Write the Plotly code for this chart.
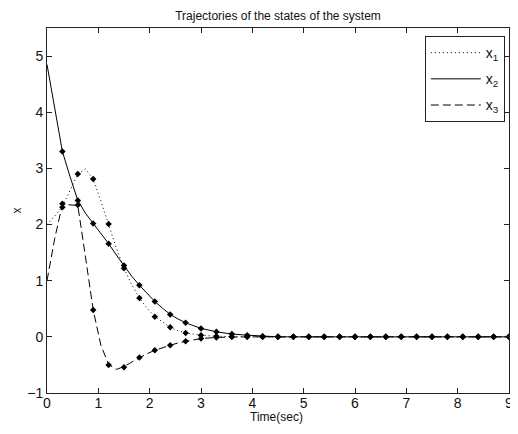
import plotly.graph_objects as go

# --- data ---
t_line = [0, 0.15, 0.3, 0.45, 0.6, 0.75, 0.9, 1.05, 1.2, 1.35, 1.5, 1.65, 1.8,
          1.95, 2.1, 2.25, 2.4, 2.55, 2.7, 2.85, 3.0, 3.3, 3.6, 3.9, 4.2, 4.5, 9.0]
x1_line = [2.0, 2.15, 2.32, 2.62, 2.90, 2.99, 2.80, 2.42, 2.01, 1.58, 1.22, 0.93, 0.69,
           0.51, 0.36, 0.26, 0.17, 0.11, 0.07, 0.05, 0.03, 0.01, 0.0, 0.0, 0.0, 0.0, 0.0]
x2_line = [4.85, 4.05, 3.30, 2.85, 2.43, 2.20, 2.02, 1.85, 1.66, 1.46, 1.26, 1.08, 0.92,
           0.77, 0.63, 0.51, 0.40, 0.32, 0.25, 0.20, 0.15, 0.09, 0.05, 0.03, 0.01, 0.0, 0.0]
x3_line = [1.0, 1.75, 2.36, 2.35, 2.34, 1.42, 0.48, -0.15, -0.49, -0.58, -0.53, -0.45, -0.37,
           -0.30, -0.24, -0.19, -0.15, -0.11, -0.08, -0.05, -0.03, -0.01, 0.0, 0.0, 0.0, 0.0, 0.0]

t_mark = [0.3, 0.6, 0.9, 1.2, 1.5, 1.8, 2.1, 2.4, 2.7, 3.0, 3.3, 3.6, 3.9, 4.2, 4.5,
          4.8, 5.1, 5.4, 5.7, 6.0, 6.3, 6.6, 6.9, 7.2, 7.5, 7.8, 8.1, 8.4, 8.7, 9.0]
x1_mark = [2.31, 2.90, 2.81, 2.01, 1.22, 0.69, 0.36, 0.17, 0.07, 0.03, 0.01, 0.0, 0.0, 0.0, 0.0,
           0, 0, 0, 0, 0, 0, 0, 0, 0, 0, 0, 0, 0, 0, 0]
x2_mark = [3.30, 2.43, 2.02, 1.66, 1.27, 0.92, 0.63, 0.40, 0.25, 0.15, 0.09, 0.05, 0.03, 0.01, 0.0,
           0, 0, 0, 0, 0, 0, 0, 0, 0, 0, 0, 0, 0, 0, 0]
x3_mark = [2.37, 2.35, 0.48, -0.50, -0.54, -0.37, -0.24, -0.15, -0.08, -0.03, -0.01, 0.0, 0.0, 0.0, 0.0,
           0, 0, 0, 0, 0, 0, 0, 0, 0, 0, 0, 0, 0, 0, 0]

names = ["x<sub>1</sub>", "x<sub>2</sub>", "x<sub>3</sub>"]
x_ticks = [0, 1, 2, 3, 4, 5, 6, 7, 8, 9]
y_ticks = [-1, 0, 1, 2, 3, 4, 5]

FONT = "Liberation Sans, Arial, sans-serif"
INK = "#111111"

# the page body has an 8px default margin, so the figure is sized to fit the window
W, H = 510, 426

fig = go.Figure()
dashes = ["1px,3px", "solid", "8px,4px"]
for i, (yl, ym) in enumerate([(x1_line, x1_mark), (x2_line, x2_mark), (x3_line, x3_mark)]):
    fig.add_trace(go.Scatter(x=t_line, y=yl, mode="lines", name=names[i],
                             legendgroup=f"g{i}", cliponaxis=False,
                             line=dict(color="black", width=1, dash=dashes[i])))
    fig.add_trace(go.Scatter(x=t_mark, y=ym, mode="markers", showlegend=False,
                             legendgroup=f"g{i}", hoverinfo="skip", cliponaxis=False,
                             marker=dict(symbol="diamond", size=5, color="black")))

axis_common = dict(showline=True, linecolor="#222222", linewidth=1, mirror="ticks",
                   ticks="inside", ticklen=5, tickcolor="#222222", showgrid=False,
                   zeroline=False, automargin=False, ticklabeloverflow="allow",
                   tickfont=dict(family=FONT, size=14, color=INK))

fig.update_layout(
    width=W, height=H,
    margin=dict(l=39, r=9, t=20, b=41),
    paper_bgcolor="white", plot_bgcolor="white",
    title=dict(text="Trajectories of the states of the system", x=0.5, xanchor="center",
               xref="paper", y=1 - 7.5 / H, yanchor="middle",
               font=dict(family=FONT, size=12, color=INK)),
    xaxis=dict(range=[0, 9], tickvals=x_ticks, ticklabelstandoff=-3, **axis_common),
    yaxis=dict(range=[-1, 5.5], tickvals=y_ticks, **axis_common),
    legend=dict(x=0.991, xanchor="right", y=0.978, yanchor="top",
                bordercolor="#222222", borderwidth=1, bgcolor="white",
                itemwidth=50, tracegroupgap=5,
                font=dict(family=FONT, size=14, color=INK)),
    showlegend=True,
    annotations=[
        dict(text="Time(sec)", xref="paper", yref="paper", x=0.497, y=-24 / 365,
             xanchor="center", yanchor="middle", showarrow=False,
             font=dict(family=FONT, size=12, color=INK)),
        dict(text="x", xref="paper", yref="paper", x=-31 / 462, y=0.5,
             xanchor="center", yanchor="middle", showarrow=False, textangle=-90,
             font=dict(family=FONT, size=12, color=INK)),
    ],
)

fig.write_html("out.html")
